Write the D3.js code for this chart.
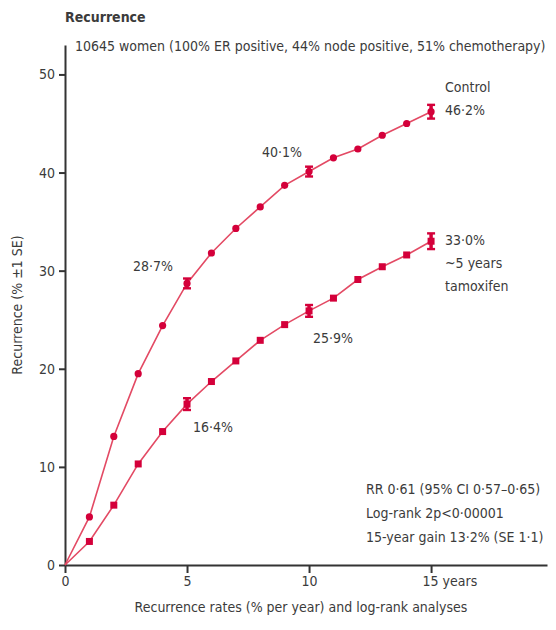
<!DOCTYPE html>
<html>
<head>
<meta charset="utf-8">
<script src="https://cdn.jsdelivr.net/npm/d3@7"></script>
<style>
  body { margin: 0; background: #fff; }
  svg text { font-family: "Liberation Sans Narrow", "DejaVu Sans Condensed", sans-serif; fill: #3b3b3b; }
</style>
</head>
<body>
<div id="container"></div>
<script>
// years of follow-up
const years = [0, 1, 2, 3, 4, 5, 6, 7, 8, 9, 10, 11, 12, 13, 14, 15];
// cumulative recurrence (%)
const control = [0, 4.9, 13.1, 19.5, 24.4, 28.7, 31.8, 34.3, 36.5, 38.7, 40.1, 41.5, 42.4, 43.8, 45.0, 46.2];
const tamoxifen = [0, 2.4, 6.1, 10.3, 13.6, 16.4, 18.7, 20.8, 22.9, 24.5, 25.9, 27.2, 29.1, 30.4, 31.6, 33.0];
// years with error bars and their SE
const seYears = [5, 10, 15];
const controlSE = [0.5, 0.5, 0.7];
const tamoxifenSE = [0.6, 0.6, 0.8];
const yTicks = [0, 10, 20, 30, 40, 50];
const xTicks = [0, 5, 10, 15];

const width = 556, height = 630;
const red = "#d4003a", lineRed = "#e34a64";

const svg = d3.select("#container").append("svg")
  .attr("width", width).attr("height", height);

const x = d3.scaleLinear().domain([0, 19.75]).range([65, 547]);
const y = d3.scaleLinear().domain([0, 53]).range([565, 45]);

// axes
const yAxis = svg.append("g")
  .attr("transform", `translate(${x(0)},0)`)
  .call(d3.axisLeft(y).tickValues(yTicks).tickSize(6).tickSizeOuter(0).tickPadding(4));
const xAxis = svg.append("g")
  .attr("transform", `translate(0,${y(0)})`)
  .call(d3.axisBottom(x).tickValues(xTicks).tickSize(8).tickSizeOuter(0).tickPadding(3));
[yAxis, xAxis].forEach(g => {
  g.selectAll("path, line").attr("stroke", "#333").attr("stroke-width", 2);
  g.selectAll("text").attr("font-size", 14).attr("fill", "#555");
});
// "15 years" label
xAxis.selectAll(".tick text").filter(d => d === 15)
  .text("15 years").attr("text-anchor", "start").attr("dx", -9);

const line = d3.line().x((d, i) => x(years[i])).y(d => y(d));

function drawSeries(vals, se, shape) {
  svg.append("path").datum(vals)
    .attr("fill", "none").attr("stroke", lineRed).attr("stroke-width", 1.6)
    .attr("d", line);
  const pts = vals.map((v, i) => ({ yr: years[i], v })).filter(d => d.yr > 0);
  if (shape === "circle") {
    svg.selectAll(null).data(pts).enter().append("circle")
      .attr("cx", d => x(d.yr)).attr("cy", d => y(d.v)).attr("r", 3.6).attr("fill", red);
  } else {
    svg.selectAll(null).data(pts).enter().append("rect")
      .attr("x", d => x(d.yr) - 3.5).attr("y", d => y(d.v) - 3.5)
      .attr("width", 7).attr("height", 7).attr("fill", red);
  }
  // error bars
  const eb = seYears.map((yr, i) => ({ yr, v: vals[years.indexOf(yr)], se: se[i] }));
  const g = svg.append("g").attr("stroke", red).attr("stroke-width", 2.4);
  eb.forEach(d => {
    const cx = x(d.yr);
    g.append("line").attr("x1", cx).attr("x2", cx).attr("y1", y(d.v - d.se)).attr("y2", y(d.v + d.se)).attr("stroke-width", 3.5);
    g.append("line").attr("x1", cx - 4).attr("x2", cx + 4).attr("y1", y(d.v - d.se)).attr("y2", y(d.v - d.se));
    g.append("line").attr("x1", cx - 4).attr("x2", cx + 4).attr("y1", y(d.v + d.se)).attr("y2", y(d.v + d.se));
  });
}
drawSeries(control, controlSE, "circle");
drawSeries(tamoxifen, tamoxifenSE, "square");

// titles
svg.append("text").attr("x", 65).attr("y", 22).attr("font-size", 14).attr("font-weight", "bold")
  .text("Recurrence");
svg.append("text").attr("x", 75).attr("y", 51).attr("font-size", 14)
  .text("10645 women (100% ER positive, 44% node positive, 51% chemotherapy)");
svg.append("text").attr("transform", `translate(22,${y(26.5)}) rotate(-90)`)
  .attr("text-anchor", "middle").attr("font-size", 14).attr("fill", "#555")
  .text("Recurrence (% ±1 SE)");
svg.append("text").attr("x", (x(0) + x(19.75)) / 2 - 5).attr("y", 612)
  .attr("text-anchor", "middle").attr("font-size", 14)
  .text("Recurrence rates (% per year) and log-rank analyses");

// value annotations
const notes = [
  { yr: 5, v: control[5], t: "28·7%", dx: -54, dy: -12 },
  { yr: 10, v: control[10], t: "40·1%", dx: -47, dy: -15 },
  { yr: 5, v: tamoxifen[5], t: "16·4%", dx: 6, dy: 28 },
  { yr: 10, v: tamoxifen[10], t: "25·9%", dx: 4, dy: 32 }
];
notes.forEach(n => {
  svg.append("text").attr("x", x(n.yr) + n.dx).attr("y", y(n.v) + n.dy)
    .attr("font-size", 14).text(n.t);
});
const endLabels = [
  { v: control[15], lines: ["Control", "46·2%"], dy: -20 },
  { v: tamoxifen[15], lines: ["33·0%", "~5 years", "tamoxifen"], dy: 4 }
];
endLabels.forEach(e => {
  e.lines.forEach((l, i) => {
    svg.append("text").attr("x", x(15) + 14).attr("y", y(e.v) + e.dy + i * 23)
      .attr("font-size", 14).text(l);
  });
});

// statistics
const stats = ["RR 0·61 (95% CI 0·57–0·65)", "Log-rank 2p<0·00001", "15-year gain 13·2% (SE 1·1)"];
stats.forEach((s, i) => {
  svg.append("text").attr("x", 366).attr("y", 494 + i * 24).attr("font-size", 14).text(s);
});
</script>
</body>
</html>
